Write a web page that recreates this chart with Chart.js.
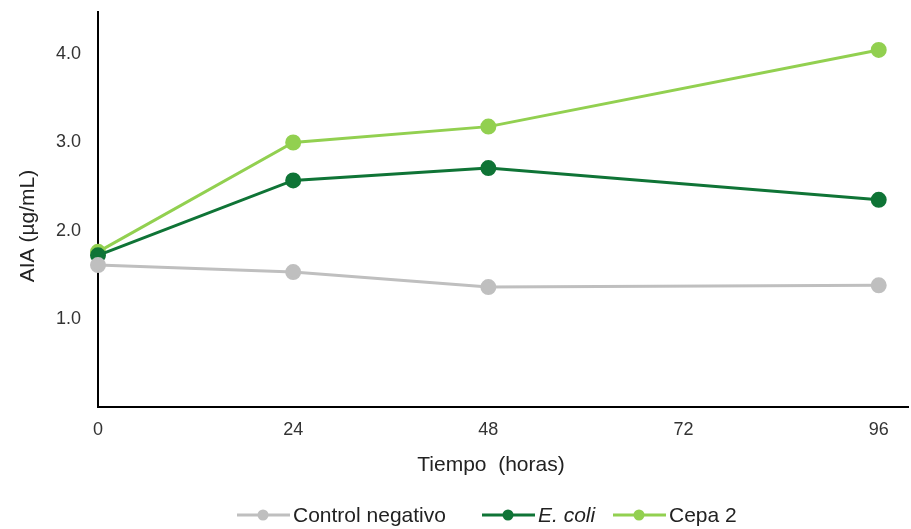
<!DOCTYPE html>
<html lang="es">
<head>
<meta charset="UTF-8">
<title>AIA</title>
<script src="https://cdn.jsdelivr.net/npm/chart.js"></script>
<style>
  html, body { margin: 0; padding: 0; background: #fff; }
  #wrap { position: relative; width: 911px; height: 529px; }
</style>
</head>
<body>
<div id="wrap"><canvas id="grafico" width="911" height="529"></canvas></div>
<script>
// datos
const horas = [0, 24, 48, 96];
const controlNegativo = [1.61, 1.53, 1.36, 1.38];
const eColi = [1.72, 2.57, 2.71, 2.35];
const cepa2 = [1.76, 3.00, 3.18, 4.05];
const ticksX = [0, 24, 48, 72, 96];
const ticksY = [1, 2, 3, 4];
const xMax = 99.6;

const series = [
    { label: "Control negativo", data: controlNegativo, color: "#bfbfbf", italic: false },
    { label: "E. coli", data: eColi, color: "#0f7436", italic: true },
    { label: "Cepa 2", data: cepa2, color: "#92d050", italic: false }
];

const fuente = "'Liberation Sans', Arial, sans-serif";
const colorTexto = "#222";

// titulos de ejes y leyenda (linea + punto) dibujados a mano
const extras = {
    id: "extras",
    afterDraw(chart) {
        const ctx = chart.ctx;
        ctx.save();
        ctx.fillStyle = colorTexto;
        ctx.font = "21px " + fuente;
        ctx.textAlign = "center";
        ctx.textBaseline = "middle";
        ctx.fillText("Tiempo  (horas)", 491, 465);
        ctx.translate(28, 226);
        ctx.rotate(-Math.PI / 2);
        ctx.fillText("AIA (µg/mL)", 0, 0);
        ctx.restore();

        ctx.save();
        let xs = [237, 482, 613];
        let y = 515;
        series.forEach((s, i) => {
            let x = xs[i];
            ctx.strokeStyle = s.color;
            ctx.lineWidth = 3;
            ctx.beginPath();
            ctx.moveTo(x, y);
            ctx.lineTo(x + 53, y);
            ctx.stroke();
            ctx.fillStyle = s.color;
            ctx.beginPath();
            ctx.arc(x + 26, y, 5.5, 0, Math.PI * 2);
            ctx.fill();
            ctx.fillStyle = colorTexto;
            ctx.font = (s.italic ? "italic " : "") + "21px " + fuente;
            ctx.textBaseline = "middle";
            ctx.fillText(s.label, x + 56, y + 1);
        });
        ctx.restore();
    }
};

new Chart(document.getElementById("grafico"), {
    type: "line",
    data: {
        datasets: series.map(s => ({
            label: s.label,
            data: horas.map((h, i) => ({ x: h, y: s.data[i] })),
            borderColor: s.color,
            backgroundColor: s.color,
            borderWidth: 3,
            pointRadius: 6.5,
            pointHoverRadius: 6.5,
            tension: 0,
            clip: false
        }))
    },
    options: {
        responsive: false,
        animation: false,
        layout: { autoPadding: false, padding: { left: 0, right: 3, top: 12, bottom: 44 } },
        plugins: {
            legend: { display: false },
            tooltip: { enabled: false }
        },
        scales: {
            x: {
                type: "linear",
                min: 0,
                max: xMax,
                afterBuildTicks: axis => { axis.ticks = ticksX.map(v => ({ value: v })); },
                afterFit: axis => { axis.height = 78; axis.paddingLeft = 0; axis.paddingRight = 0; },
                grid: { display: false, drawTicks: false },
                border: { display: true, color: "#000", width: 2 },
                ticks: { color: "#333", font: { family: fuente, size: 18 }, padding: 12, maxRotation: 0 },
                title: { display: false }
            },
            y: {
                min: 0,
                max: 4.48,
                afterBuildTicks: axis => { axis.ticks = ticksY.map(v => ({ value: v })); },
                afterFit: axis => { axis.width = 98; axis.paddingTop = 0; axis.paddingBottom = 0; },
                grid: { display: false, drawTicks: false },
                border: { display: true, color: "#000", width: 2 },
                ticks: { color: "#333", font: { family: fuente, size: 18 }, padding: 17, callback: v => v.toFixed(1) },
                title: { display: false }
            }
        }
    },
    plugins: [extras]
});
</script>
</body>
</html>
